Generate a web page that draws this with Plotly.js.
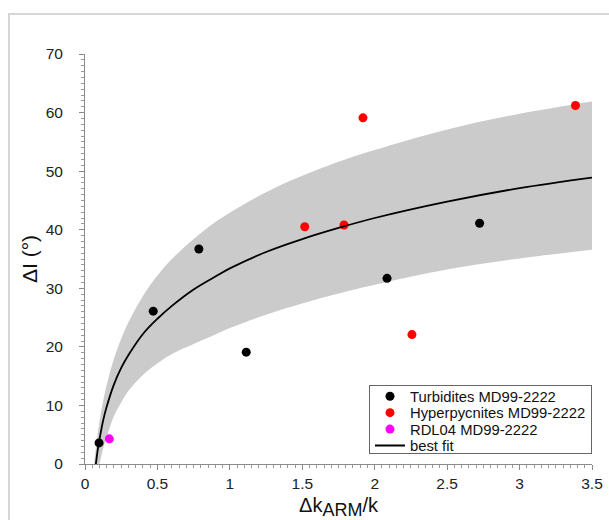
<!DOCTYPE html>
<html>
<head>
<meta charset="utf-8">
<script src="https://cdn.plot.ly/plotly-3.0.1.min.js"></script>
<style>
  html, body { margin: 0; padding: 0; background: #fff; }
  #wrap { position: relative; width: 609px; height: 520px; }
  #chart { width: 609px; height: 520px; }
  #frame { position: absolute; left: 8px; top: 13px; width: 601px; height: 507px;
           border-top: 2px solid #d6d6d6; border-left: 2px solid #d6d6d6; box-sizing: border-box; pointer-events: none; }
</style>
</head>
<body>
<div id="wrap">
  <div id="chart"></div>
  <div id="frame"></div>
</div>
<script>
// Data points
const turbX = [0.097, 0.471, 0.786, 1.113, 2.085, 2.724];
const turbY = [3.6, 26.1, 36.7, 19.1, 31.7, 41.1];

const hypX = [1.517, 1.788, 1.919, 2.257, 3.386];
const hypY = [40.5, 40.8, 59.1, 22.1, 61.2];

const rdlX = [0.168];
const rdlY = [4.3];

// Best-fit curve
const fitX = [0.075, 0.09, 0.1, 0.125, 0.15, 0.2, 0.25, 0.3, 0.4, 0.5, 0.6, 0.75, 0.9, 1.0, 1.25, 1.5, 1.75, 2.0, 2.5, 3.0, 3.5];
const fitY = [0, 2.8, 4.2, 7.4, 9.8, 13.6, 16.4, 18.6, 22.2, 24.8, 27.0, 29.8, 32.0, 33.4, 36.2, 38.4, 40.3, 42.0, 44.8, 47.1, 48.9];

// Confidence band edges, read along the grey area
const upX = [0.063, 0.08, 0.1, 0.125, 0.15, 0.2, 0.25, 0.3, 0.4, 0.5, 0.6, 0.75, 0.9, 1.0, 1.25, 1.5, 1.75, 2.0, 2.5, 3.0, 3.5];
const upY = [0, 3.7, 7.2, 10.7, 13.5, 18.0, 21.4, 24.2, 28.7, 32.2, 35.0, 38.4, 41.3, 42.9, 46.4, 49.2, 51.6, 53.6, 57.1, 59.8, 61.9];
const loX = [0.1, 0.125, 0.15, 0.2, 0.25, 0.3, 0.4, 0.5, 0.6, 0.75, 0.9, 1.0, 1.25, 1.5, 1.75, 2.0, 2.5, 3.0, 3.5];
const loY = [0, 2.6, 4.6, 8.2, 10.5, 12.5, 15.2, 17.2, 18.8, 20.5, 22.1, 23.2, 25.5, 27.4, 29.1, 30.6, 33.2, 35.1, 36.6];

const FONT = 'Liberation Sans, Arial, sans-serif';

const traces = [
  { x: loX, y: loY, type: 'scatter', mode: 'lines', line: { width: 0, shape: 'spline', color: 'rgba(0,0,0,0)' },
    showlegend: false, hoverinfo: 'skip' },
  { x: upX, y: upY, type: 'scatter', mode: 'lines', line: { width: 0, shape: 'spline', color: 'rgba(0,0,0,0)' },
    fill: 'tonexty', fillcolor: '#cbcbcb', showlegend: false, hoverinfo: 'skip' },
  { x: turbX, y: turbY, type: 'scatter', mode: 'markers', name: 'Turbidites MD99-2222',
    marker: { color: '#000000', size: 9 } },
  { x: hypX, y: hypY, type: 'scatter', mode: 'markers', name: 'Hyperpycnites MD99-2222',
    marker: { color: '#ff0000', size: 9 } },
  { x: rdlX, y: rdlY, type: 'scatter', mode: 'markers', name: 'RDL04 MD99-2222',
    marker: { color: '#ff00ff', size: 9 } },
  { x: fitX, y: fitY, type: 'scatter', mode: 'lines', name: 'best fit',
    line: { color: '#000000', width: 1.8, shape: 'spline' } }
];

const layout = {
  width: 609, height: 520,
  margin: { l: 85, r: 17, t: 54, b: 56 },
  paper_bgcolor: '#ffffff', plot_bgcolor: '#ffffff',
  font: { family: FONT, size: 15, color: '#222' },
  showlegend: true,
  legend: {
    x: 1.0, y: 0.024, xanchor: 'right', yanchor: 'bottom',
    traceorder: 'normal',
    bgcolor: '#ffffff', bordercolor: '#666', borderwidth: 1,
    font: { family: FONT, size: 14.8, color: '#111' },
    tracegroupgap: 0, itemwidth: 30
  },
  xaxis: {
    range: [0, 3.5], dtick: 0.5, tick0: 0,
    showgrid: false, zeroline: false,
    showline: true, linecolor: '#8a8a8a', linewidth: 1,
    ticks: 'outside', ticklen: 5, tickcolor: '#8a8a8a',
    minor: { dtick: 0.05, ticks: 'outside', ticklen: 3, tickcolor: '#9a9a9a', showgrid: false },
    tickfont: { size: 15.5, color: '#222' },
    title: { text: 'Δk<sub><span style="font-size:18px">ARM</span></sub>/k', font: { size: 20, color: '#111' }, standoff: 9 }
  },
  yaxis: {
    range: [0, 70], dtick: 10, tick0: 0,
    showgrid: false, zeroline: false,
    showline: true, linecolor: '#8a8a8a', linewidth: 1,
    ticks: 'outside', ticklen: 5, tickcolor: '#8a8a8a',
    minor: { dtick: 1, ticks: 'outside', ticklen: 3, tickcolor: '#9a9a9a', showgrid: false },
    tickfont: { size: 15.5, color: '#222' },
    ticklabelstandoff: 13,
    title: { text: 'ΔI (°)', font: { size: 21, color: '#111' }, standoff: 2 }
  }
};

Plotly.newPlot('chart', traces, layout, { displayModeBar: false, staticPlot: true }).then(function (gd) {
  // tighten legend row spacing to match the reference box (rows ~16.4px, box ~68px)
  try {
    const leg = gd.querySelector('g.legend');
    const items = Array.from(leg.querySelectorAll('g.traces'));
    const parse = el => {
      const m = /translate\(\s*([-\d.e]+)[ ,]+([-\d.e]+)/.exec(el.getAttribute('transform') || '');
      return m ? [parseFloat(m[1]), parseFloat(m[2])] : null;
    };
    const p0 = parse(items[0]);
    if (p0) {
      const step = 16.4, boxH = 68;
      items.forEach((el, i) => {
        const p = parse(el);
        el.setAttribute('transform', 'translate(' + p[0] + ',' + (p0[1] - 6 + i * step) + ')');
      });
      const bg = leg.querySelector('rect.bg');
      const oldH = parseFloat(bg.getAttribute('height'));
      bg.setAttribute('height', boxH);
      const lp = parse(leg);
      if (lp) leg.setAttribute('transform', 'translate(' + lp[0] + ',' + (lp[1] + oldH - boxH) + ')');
    }
  } catch (e) {}
});
</script>
</body>
</html>
